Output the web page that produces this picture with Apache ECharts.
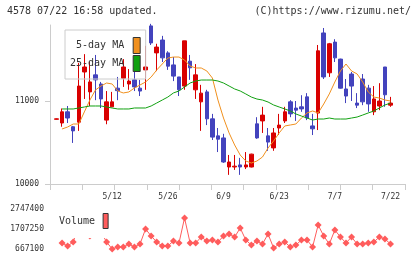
<!DOCTYPE html>
<html><head><meta charset="utf-8">
<script src="https://cdn.jsdelivr.net/npm/echarts@6/dist/echarts.min.js"></script>
<style>html,body{margin:0;padding:0;background:#fff}#c{width:420px;height:259px}</style>
</head><body><div id="c"></div>
<script>
const dates = ['4/23','4/24','4/25','4/28','4/30','5/1','5/2','5/7','5/8','5/9',
  '5/12','5/13','5/14','5/15','5/16','5/19','5/20','5/21','5/22','5/23',
  '5/26','5/27','5/28','5/29','5/30','6/2','6/3','6/4','6/5','6/6',
  '6/9','6/10','6/11','6/12','6/13','6/16','6/17','6/18','6/19','6/20',
  '6/23','6/24','6/25','6/26','6/27','6/30','7/1','7/2','7/3','7/4',
  '7/7','7/8','7/9','7/10','7/11','7/14','7/15','7/16','7/17','7/18','7/22'];
const opens = [10780,10735,10870,10690,10745,11350,11110,11315,11205,10770,
  10930,11155,11275,11205,11255,11155,11375,11905,11580,11735,
  11580,11435,11290,11180,11480,11135,10990,11110,10785,10580,
  10555,10205,10205,10230,10205,10205,10725,10760,10580,10435,
  10675,10760,10990,10915,10930,11050,10700,10855,11820,11340,
  11710,11505,11145,11325,10975,11265,11155,10870,10940,11410,10950];
const closes = [10785,10870,10795,10640,11180,11410,11230,11255,11025,10990,
  10990,11125,11410,11240,11170,11120,11410,11700,11650,11520,
  11420,11300,11135,11725,11400,11315,11095,10785,10565,10540,
  10265,10265,10215,10205,10230,10360,10555,10830,10505,10615,
  10710,10870,10845,10890,10905,10795,10665,11605,11290,11690,
  11520,11155,11060,11180,10950,10990,10965,11025,11000,11075,10975];
const lows = [10775,10690,10735,10495,10640,11025,10940,11010,10915,10720,
  10930,11010,11170,11135,11120,11060,11135,11675,11360,11470,
  11375,11240,11060,11135,11255,11025,10640,10710,10530,10385,
  10255,10110,10170,10110,10180,10200,10545,10615,10400,10400,
  10590,10735,10805,10760,10870,10770,10590,10650,11265,11290,
  11470,11150,10975,11000,10915,10950,10870,10830,10890,10930,10930];
const highs = [10790,10910,10940,10700,11460,11565,11470,11555,11230,11120,
  11110,11290,11505,11385,11435,11255,11665,11930,11690,11785,
  11600,11530,11290,11725,11555,11445,11195,11135,10845,10675,
  10605,10350,10350,10315,10385,10365,10805,10930,10675,10675,
  10845,10930,11010,11000,11070,11095,10845,11675,11880,11700,
  11745,11510,11265,11350,11095,11325,11195,11180,11215,11410,11050];
const ma5 = [null,10663,10687,10723,10723,10868,11012,11133,11181,11217,
  11205,11121,11097,11109,11157,11193,11229,11289,11374,11446,
  11518,11530,11530,11494,11422,11398,11398,11362,11277,11012,
  10795,10615,10470,10349,10277,10253,10277,10325,10434,10518,
  10615,10699,10711,10723,10795,10856,10880,10856,10964,11085,
  11229,11362,11446,11362,11326,11229,11109,11048,11036,11012,11000];
const ma25 = [null,10904,10904,10904,10916,10928,10940,10940,10940,10928,
  10916,10904,10904,10904,10916,10916,10916,10940,10976,11012,
  11048,11097,11121,11169,11217,11241,11253,11253,11253,11241,
  11217,11181,11145,11121,11085,11048,11024,11012,10988,10952,
  10928,10904,10880,10844,10819,10795,10771,10783,10783,10795,
  10783,10783,10783,10795,10807,10831,10856,10880,10916,10952,10976];
const volume = [null,979000,823000,1031000,1900000,1700000,1343000,1600000,1551000,1031000,
  667000,771000,771000,927000,771000,927000,1707000,1343000,1031000,823000,
  823000,1083000,979000,2279000,979000,979000,1291000,1083000,1135000,1031000,
  1343000,1447000,1291000,1759000,1135000,875000,1083000,927000,1447000,719000,
  927000,1031000,771000,875000,1135000,1135000,771000,1915000,1343000,927000,
  1655000,1291000,979000,1291000,927000,927000,979000,1031000,1291000,1187000,927000];
const priceTicks = [10000, 11000];
const volumeTicks = [667100, 1707250, 2747400];
const dateLabels = ['5/12','5/26','6/9','6/23','7/7','7/22'];

const FONT = 'DejaVu Sans Mono';
const RED = '#d90000', BLUE = '#4343bd', ORANGE = '#f0901e', GREEN = '#10a010', VOL = '#ff5c5c';
const xMin = -1.168, xMax = 62.6;
const candleData = dates.map((d, i) => [i, opens[i], closes[i], lows[i], highs[i]]);
const toXY = arr => arr.map((v, i) => [i, v]).filter(p => p[1] != null);
const labelIdx = dateLabels.map(d => dates.indexOf(d));
const tickVals = Array.from({length: 12}, (_, k) => xMin + k * (xMax - xMin) / 11);
const txt = {fontFamily: FONT, fontSize: 8, color: '#333'};
const plain = v => String(Math.round(v));

const chart = echarts.init(document.getElementById('c'), null, {renderer: 'canvas'});
chart.setOption({
  animation: false,
  textStyle: {fontFamily: FONT},
  title: [
    {text: '4578 07/22 16:58 updated.', left: 7, top: 6, padding: 0,
     textStyle: {fontFamily: FONT, fontSize: 10, fontWeight: 'normal', color: '#333'}},
    {text: '(C)https://www.rizumu.net/', right: 9, top: 6, padding: 0,
     textStyle: {fontFamily: FONT, fontSize: 10, fontWeight: 'normal', color: '#333'}}
  ],
  legend: [
    {data: ['5-day MA', '25-day MA'], orient: 'vertical', align: 'right', left: 65, top: 30,
     padding: [7, 5, 7, 5], itemWidth: 7, itemHeight: 16, itemGap: 1, icon: 'rect',
     borderColor: '#ccc', borderWidth: 1, selectedMode: false,
     textStyle: {fontFamily: FONT, fontSize: 10, color: '#333', padding: [0, 4, 0, 0]},
     itemStyle: {borderColor: '#333', borderWidth: 1}},
    {data: ['Volume'], orient: 'vertical', align: 'right', left: 55, top: 205,
     padding: [8, 3, 9, 4], itemWidth: 5, itemHeight: 15, icon: 'rect',
     backgroundColor: '#fff', selectedMode: false,
     textStyle: {fontFamily: FONT, fontSize: 10, color: '#333', padding: [0, 3, 0, 0]},
     itemStyle: {borderColor: '#333', borderWidth: 1}}
  ],
  grid: [
    {left: 50, right: 15, top: 25, height: 159},
    {left: 50, right: 15, top: 209, height: 40}
  ],
  xAxis: [
    {type: 'value', gridIndex: 0, min: xMin, max: xMax,
     axisLine: {onZero: false, lineStyle: {color: '#ccc'}},
     axisTick: {show: true, customValues: tickVals, length: 6, lineStyle: {color: '#ccc'}},
     axisLabel: Object.assign({customValues: labelIdx, formatter: v => dates[Math.round(v)], margin: 9}, txt),
     splitLine: {show: false}},
    {type: 'value', gridIndex: 1, min: xMin, max: xMax, show: false}
  ],
  yAxis: [
    {type: 'value', gridIndex: 0, min: 10000, max: 11916, interval: 1000,
     axisLine: {show: true, onZero: false, lineStyle: {color: '#ccc'}},
     axisTick: {show: true, customValues: priceTicks, length: 5, lineStyle: {color: '#ccc'}},
     axisLabel: Object.assign({customValues: priceTicks, margin: 11, formatter: plain}, txt),
     splitLine: {show: false}},
    {type: 'value', gridIndex: 1, min: 667100, max: 2747400,
     axisLine: {show: false, onZero: false}, axisTick: {show: false},
     axisLabel: Object.assign({customValues: volumeTicks, margin: 6, formatter: plain}, txt),
     splitLine: {show: false}}
  ],
  series: [
    {name: 'Price', type: 'candlestick', xAxisIndex: 0, yAxisIndex: 0, data: candleData,
     encode: {x: 0, y: [1, 2, 3, 4]}, barWidth: 4, clip: false,
     itemStyle: {color: RED, color0: BLUE, borderColor: RED, borderColor0: BLUE, borderWidth: 1}},
    {name: '5-day MA', type: 'line', xAxisIndex: 0, yAxisIndex: 0, data: toXY(ma5),
     symbol: 'none', lineStyle: {color: ORANGE, width: 1}, itemStyle: {color: ORANGE}, z: 3},
    {name: '25-day MA', type: 'line', xAxisIndex: 0, yAxisIndex: 0, data: toXY(ma25),
     symbol: 'none', lineStyle: {color: GREEN, width: 1}, itemStyle: {color: GREEN}, z: 3},
    {name: 'Volume', type: 'line', xAxisIndex: 1, yAxisIndex: 1, data: toXY(volume),
     symbol: 'diamond', symbolSize: 7, showSymbol: true, clip: false,
     lineStyle: {color: VOL, width: 1}, itemStyle: {color: VOL}}
  ]
});
</script></body></html>
